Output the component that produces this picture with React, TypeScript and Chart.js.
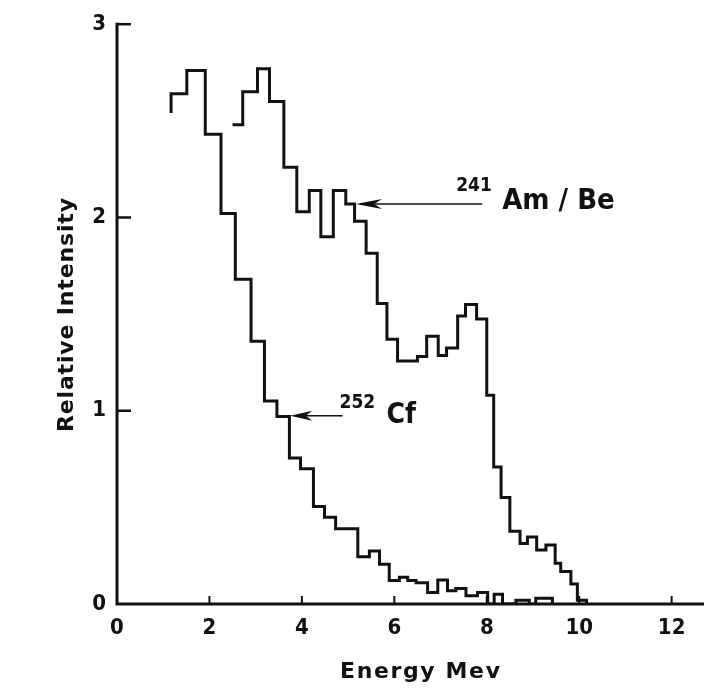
import React, { useEffect, useRef } from "react";
import { Chart, registerables } from "chart.js";
Chart.register(...registerables);

// 252Cf spectrum: bin left edges and bin heights (first point is the short lead-in)
const cfEdges = [1.17, 1.17, 1.51, 1.91, 2.25, 2.56, 2.9, 3.19, 3.46, 3.73, 3.97, 4.25, 4.49, 4.73, 5.21, 5.46, 5.68, 5.89, 6.11, 6.29, 6.47, 6.72, 6.94, 7.15, 7.33, 7.55, 7.8, 8.02, 8.16, 8.34, 8.63, 8.92, 9.06, 9.42];
const cfValues = [2.54, 2.64, 2.76, 2.43, 2.02, 1.68, 1.36, 1.05, 0.97, 0.755, 0.7, 0.505, 0.449, 0.389, 0.245, 0.274, 0.206, 0.121, 0.138, 0.121, 0.11, 0.06, 0.124, 0.068, 0.08, 0.043, 0.06, 0, 0.05, 0, 0.02, 0, 0.03, 0];

// 241Am/Be spectrum
const amEdges = [2.5, 2.72, 3.04, 3.3, 3.61, 3.89, 4.16, 4.41, 4.68, 4.95, 5.14, 5.39, 5.63, 5.84, 6.07, 6.5, 6.7, 6.95, 7.13, 7.37, 7.54, 7.78, 8.0, 8.15, 8.31, 8.5, 8.72, 8.88, 9.08, 9.28, 9.48, 9.6, 9.82, 9.96, 10.16];
const amValues = [2.48, 2.65, 2.77, 2.6, 2.26, 2.03, 2.14, 1.9, 2.14, 2.07, 1.98, 1.815, 1.555, 1.37, 1.257, 1.28, 1.385, 1.286, 1.325, 1.49, 1.55, 1.475, 1.08, 0.709, 0.551, 0.376, 0.313, 0.347, 0.279, 0.305, 0.211, 0.168, 0.104, 0.02, 0];

const xTicks = [0, 2, 4, 6, 8, 10, 12];
const yTicks = [0, 1, 2, 3];
const xTitle = "Energy Mev";
const yTitle = "Relative Intensity";

// annotation arrows (data coordinates): tail x, head x, y
const amArrow = { tail: 7.9, head: 5.17, y: 2.07, sup: "241", label: "Am / Be" };
const cfArrow = { tail: 4.88, head: 3.75, y: 0.974, sup: "252", label: "Cf" };

const FONT = '"DejaVu Sans Condensed", "DejaVu Sans", sans-serif';
const TITLE_FONT = '"DejaVu Sans", sans-serif';
const INK = "#111";

function toPoints(edges: number[], values: number[]) {
  return edges.map((e, i) => ({ x: e, y: values[i] }));
}

function spacedText(ctx: any, text: string, x: number, y: number, target: number) {
  ctx.letterSpacing = "0px";
  const w = ctx.measureText(text).width;
  const extra = Math.max(0, (target - w) / Math.max(1, text.length - 1));
  ctx.letterSpacing = `${extra}px`;
  ctx.textAlign = "left";
  ctx.fillText(text, x - target / 2, y);
  ctx.letterSpacing = "0px";
}

const decor = {
  id: "decor",
  afterDatasetsDraw(chart: any) {
    const { ctx, scales } = chart;
    const xs = scales.x;
    const ys = scales.y;
    const x0 = xs.getPixelForValue(0);
    const y0 = ys.getPixelForValue(0);
    const yTop = ys.getPixelForValue(3);
    ctx.save();
    ctx.strokeStyle = INK;
    ctx.fillStyle = INK;
    ctx.lineCap = "butt";
    // axes
    ctx.lineWidth = 3;
    ctx.beginPath();
    ctx.moveTo(x0, yTop - 1.5);
    ctx.lineTo(x0, y0);
    ctx.lineTo(chart.width, y0);
    ctx.stroke();
    // y ticks inward
    ctx.lineWidth = 2.5;
    for (const t of yTicks) {
      if (t === 0) continue;
      const py = ys.getPixelForValue(t);
      ctx.beginPath();
      ctx.moveTo(x0, py);
      ctx.lineTo(x0 + 14, py);
      ctx.stroke();
    }
    // x ticks inward
    ctx.lineWidth = 2;
    for (const t of xTicks) {
      if (t === 0) continue;
      const px = xs.getPixelForValue(t);
      ctx.beginPath();
      ctx.moveTo(px, y0);
      ctx.lineTo(px, y0 - 8);
      ctx.stroke();
    }
    // arrows + labels
    const drawArrow = (a: any, headLen: number, supSize: number, labSize: number, off: any) => {
      const pt = xs.getPixelForValue(a.tail);
      const ph = xs.getPixelForValue(a.head);
      const py = ys.getPixelForValue(a.y);
      ctx.lineWidth = 1.6;
      ctx.beginPath();
      ctx.moveTo(pt, py);
      ctx.lineTo(ph + 4, py);
      ctx.stroke();
      ctx.beginPath();
      ctx.moveTo(ph, py);
      ctx.lineTo(ph + headLen, py - 5);
      ctx.lineTo(ph + headLen * 0.7, py);
      ctx.lineTo(ph + headLen, py + 5);
      ctx.closePath();
      ctx.fill();
      ctx.textAlign = "left";
      ctx.textBaseline = "alphabetic";
      ctx.font = `bold ${supSize}px ${FONT}`;
      ctx.fillText(a.sup, pt + off.sx, py + off.sy);
      ctx.font = `bold ${labSize}px ${FONT}`;
      ctx.fillText(a.label, pt + off.lx, py + off.ly);
    };
    drawArrow(amArrow, 26, 19, 29, { sx: -26, sy: -13, lx: 20, ly: 5 });
    drawArrow(cfArrow, 22, 19, 28, { sx: -3, sy: -8, lx: 44, ly: 7 });
    // axis titles
    ctx.textBaseline = "alphabetic";
    ctx.font = `bold 22px ${TITLE_FONT}`;
    spacedText(ctx, xTitle, 420, 678, 160);
    ctx.save();
    ctx.translate(73, 315);
    ctx.rotate(-Math.PI / 2);
    ctx.font = `bold 22px ${TITLE_FONT}`;
    spacedText(ctx, yTitle, 0, 0, 234);
    ctx.restore();
    ctx.restore();
  },
};

export default function App() {
  const ref = useRef<HTMLCanvasElement>(null);
  useEffect(() => {
    if (!ref.current) return;
    const lineStyle = {
      borderColor: INK,
      borderWidth: 3,
      pointRadius: 0,
      fill: false,
      stepped: "before" as const,
      tension: 0,
    };
    const chart = new Chart(ref.current, {
      type: "line",
      data: {
        datasets: [
          { label: "252Cf", data: toPoints(cfEdges, cfValues), ...lineStyle },
          { label: "241Am/Be", data: toPoints(amEdges, amValues), ...lineStyle },
        ],
      },
      options: {
        responsive: false,
        animation: false,
        devicePixelRatio: 1,
        layout: { padding: { top: 16, right: 0, left: 0, bottom: 0 } },
        plugins: { legend: { display: false }, tooltip: { enabled: false } },
        scales: {
          x: {
            type: "linear",
            min: 0,
            max: 12.7,
            grid: { display: false, drawTicks: false },
            border: { display: false },
            ticks: {
              stepSize: 2,
              includeBounds: false,
              padding: 11,
              color: INK,
              font: { family: FONT, size: 22, weight: "bold" },
            },
            afterFit: (s: any) => {
              s.height = 88;
            },
          },
          y: {
            type: "linear",
            min: 0,
            max: 3,
            grid: { display: false, drawTicks: false },
            border: { display: false },
            ticks: {
              stepSize: 1,
              padding: 11,
              color: INK,
              font: { family: FONT, size: 22, weight: "bold" },
            },
            afterFit: (s: any) => {
              s.width = 117;
            },
          },
        },
      },
      plugins: [decor],
    });
    return () => chart.destroy();
  }, []);
  return (
    <div style={{ position: "fixed", left: 0, top: 0, width: 704, height: 692, background: "#fff" }}>
      <canvas ref={ref} width={704} height={692} style={{ width: 704, height: 692, display: "block" }} />
    </div>
  );
}
